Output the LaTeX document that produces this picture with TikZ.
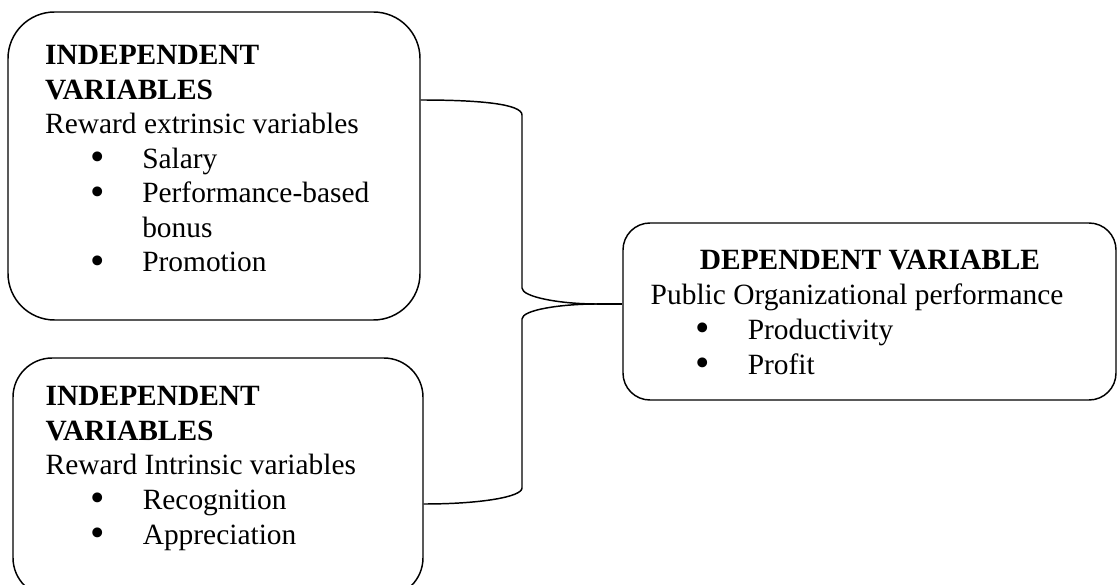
\documentclass[tikz,border=0pt]{standalone}
\usepackage{fontspec}
\setmainfont{Liberation Serif}
\usepackage{tikz}
\usetikzlibrary{fit, calc}

\newcommand{\bulletitem}[1]{\hspace*{18.4pt}\makebox[21.2pt][l]{\raisebox{-0.9pt}{\scalebox{1.4}{\textbullet}}}#1}

\begin{document}
\begin{tikzpicture}[
  x=0.408pt, y=-0.408pt,
  box/.style={draw, line width=0.6pt, inner sep=0pt},
  txt/.style={inner sep=0pt, align=left, font=\fontsize{12}{14.1}\selectfont},
  every path/.style={line width=0.6pt}
]
\useasboundingbox (0,0) rectangle (1117,585);
\node[box, rounded corners=19pt, fit={(8,12) (420,320)}] (extr) {};
\node[box, rounded corners=16pt, fit={(13,358) (423,597)}] (intr) {};
\node[box, rounded corners=11pt, fit={(623,223) (1116,400)}] (dep) {};
% base anchor sits on the last line
\node[txt, anchor=base west] (extrtxt) at (44.5,272) {\textbf{INDEPENDENT}\\\textbf{VARIABLES}\\Reward extrinsic variables\\\bulletitem{Salary}\\\bulletitem{Performance-based}\\\hspace*{39.6pt}bonus\\\bulletitem{Promotion}};
\node[txt, anchor=base west] (intrtxt) at (45,544) {\textbf{INDEPENDENT}\\\textbf{VARIABLES}\\Reward Intrinsic variables\\\bulletitem{Recognition}\\\bulletitem{Appreciation}};
\node[txt, font=\fontsize{12}{14.1}\selectfont\bfseries, anchor=base] (deptitle) at (870,270) {DEPENDENT VARIABLE};
\node[txt, anchor=base west] (deptxt) at (650,374) {Public Organizational performance\\\bulletitem{Productivity}\\\bulletitem{Profit}};
\coordinate (tip) at (597,304);
\draw (extr.east |- 0,100) .. controls (480,100) and (522,104) .. (522,115) -- (522,288) .. controls (522,297) and (560,304) .. (tip);
\draw (tip) .. controls (560,304) and (522,310) .. (522,319) -- (522,488) .. controls (522,497) and (480,504) .. (intr.east |- 0,504);
\draw (tip) -- (dep.west |- tip);
\end{tikzpicture}
\end{document}
